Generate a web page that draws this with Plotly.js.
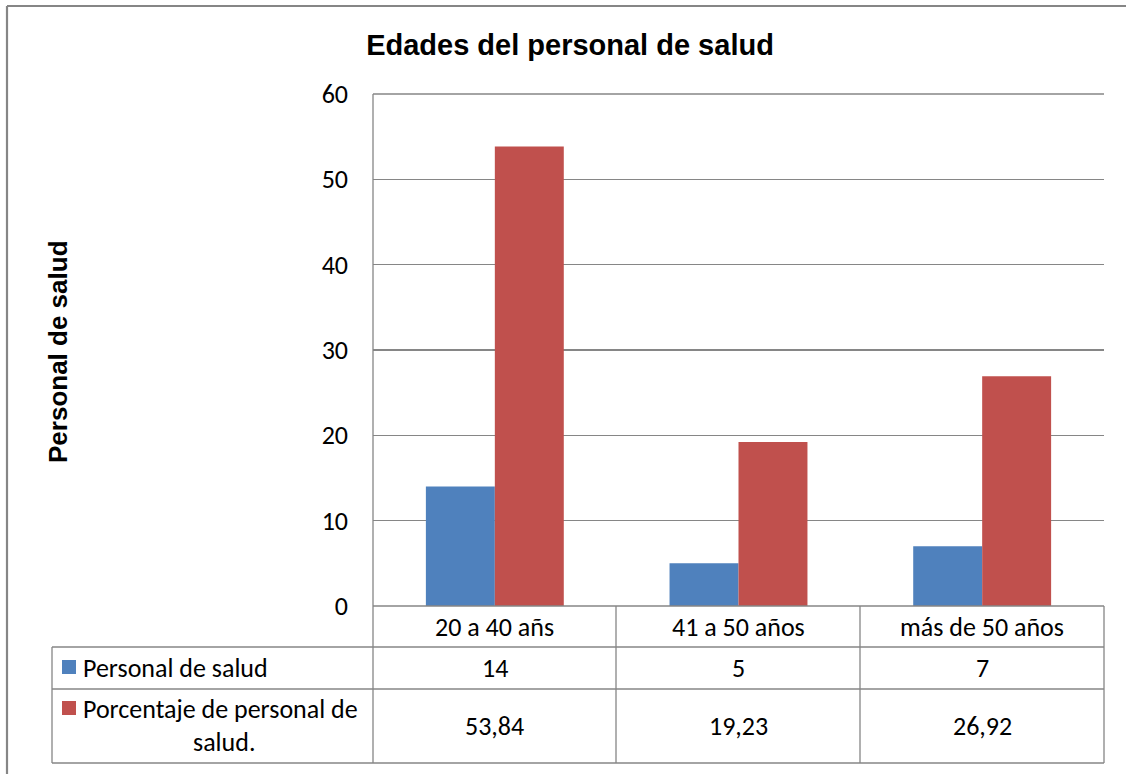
<!DOCTYPE html>
<html><head><meta charset="utf-8">
<script src="https://cdn.plot.ly/plotly-3.0.1.min.js"></script>
<style>html,body{margin:0;padding:0;background:#fff;}#chart{width:1126px;height:774px;}</style>
</head><body><div id="chart"></div>
<script>
// ---- data ----
const categories = ['20 a 40 añs', '41 a 50 años', 'más de 50 años'];
const personalSalud = [14, 5, 7];
const porcentajeSalud = [53.84, 19.23, 26.92];
const seriesNames = ['Personal de salud', 'Porcentaje de personal de salud.'];
const yTicks = [0, 10, 20, 30, 40, 50, 60];

// ---- layout geometry (pixels) ----
const W = 1126, H = 774;
const M = {l: 373, r: 22, t: 94, b: 168};
const PW = W - M.l - M.r, PH = H - M.t - M.b;
const px = p => (p - M.l) / PW;          // pixel x -> paper x
const py = p => (H - M.b - p) / PH;      // pixel y -> paper y
const colors = ['#4F81BD', '#C0504D'];
const grid = '#868686';
const font = 'Carlito, Lato, "Open Sans", sans-serif';
const fmt = v => String(v).replace('.', ',');

const traces = [
  {type: 'bar', x: categories, y: personalSalud, name: seriesNames[0], marker: {color: colors[0]}},
  {type: 'bar', x: categories, y: porcentajeSalud, name: seriesNames[1], marker: {color: colors[1]}}
];

const rowY = [606, 647, 689, 763];
const shapes = [];
const line = (x0, y0, x1, y1, w) => shapes.push({type: 'line', xref: 'paper', yref: 'paper',
  x0: px(x0), y0: py(y0), x1: px(x1), y1: py(y1), line: {color: grid, width: w || 1.3}, layer: 'above'});
// outer border
line(7, 6, 1140, 6, 2.2);
line(7, 6, 7, 790, 2.2);
// top gridline (60)
line(373, 94, 1104, 94);
// table horizontals
line(373, 606, 1104, 606);
line(52, 647, 1104, 647);
line(52, 689, 1104, 689);
line(52, 763, 1104, 763);
// table verticals
line(52, 647, 52, 763);
line(373, 94, 373, 763);
line(616, 606, 616, 763);
line(860, 606, 860, 763);
line(1104, 606, 1104, 763);
// legend keys
shapes.push({type: 'rect', xref: 'paper', yref: 'paper', x0: px(62), x1: px(76), y0: py(660), y1: py(674),
  fillcolor: colors[0], line: {width: 0}});
shapes.push({type: 'rect', xref: 'paper', yref: 'paper', x0: px(62), x1: px(76), y0: py(701), y1: py(715),
  fillcolor: colors[1], line: {width: 0}});

const annotations = [];
const tf = {family: font, size: 26, color: '#000'};
categories.forEach((c, i) => {
  annotations.push({xref: 'x', yref: 'paper', x: i, y: py((rowY[0] + rowY[1]) / 2), text: c,
    showarrow: false, font: tf, xanchor: 'center', yanchor: 'middle'});
  annotations.push({xref: 'x', yref: 'paper', x: i, y: py((rowY[1] + rowY[2]) / 2), text: fmt(personalSalud[i]),
    showarrow: false, font: tf, xanchor: 'center', yanchor: 'middle'});
  annotations.push({xref: 'x', yref: 'paper', x: i, y: py((rowY[2] + rowY[3]) / 2), text: fmt(porcentajeSalud[i]),
    showarrow: false, font: tf, xanchor: 'center', yanchor: 'middle'});
});
// row headers
annotations.push({xref: 'paper', yref: 'paper', x: px(81), y: py(668), text: seriesNames[0],
  showarrow: false, font: tf, xanchor: 'left', yanchor: 'middle'});
const parts = seriesNames[1].split(' ');
annotations.push({xref: 'paper', yref: 'paper', x: px(81), y: py(709), text: parts.slice(0, -1).join(' '),
  showarrow: false, font: tf, xanchor: 'left', yanchor: 'middle'});
annotations.push({xref: 'paper', yref: 'paper', x: px(224), y: py(742), text: parts[parts.length - 1],
  showarrow: false, font: tf, xanchor: 'center', yanchor: 'middle'});
// y axis title
annotations.push({xref: 'paper', yref: 'paper', x: px(58), y: py(352), text: '<b>Personal de salud</b>',
  textangle: -90, showarrow: false, font: {family: 'Liberation Sans, Arial, sans-serif', size: 26, color: '#000'},
  xanchor: 'center', yanchor: 'middle'});

const layout = {
  width: W, height: H,
  margin: M,
  paper_bgcolor: '#fff', plot_bgcolor: '#fff',
  showlegend: false,
  barmode: 'group', bargap: 0.434, bargroupgap: 0,
  title: {text: '<b>Edades del personal de salud</b>', x: 570 / W, xref: 'container', xanchor: 'center',
    y: 1 - 45 / H, yanchor: 'middle', yref: 'container',
    font: {family: 'Liberation Sans, Arial, sans-serif', size: 29, color: '#000'}},
  xaxis: {type: 'category', range: [-0.5, 2.5], showticklabels: false, showgrid: false, zeroline: false,
    showline: false, ticks: '', fixedrange: true},
  yaxis: {range: [0, 60], tickvals: yTicks, ticktext: yTicks.map(String), showgrid: true, gridcolor: grid, gridwidth: 1.3,
    zeroline: false, showline: false, ticks: '', ticklabelstandoff: 24,
    tickfont: {family: font, size: 26, color: '#000'}},
  shapes: shapes,
  annotations: annotations
};
Plotly.newPlot('chart', traces, layout, {displayModeBar: false, staticPlot: true});
</script></body></html>
